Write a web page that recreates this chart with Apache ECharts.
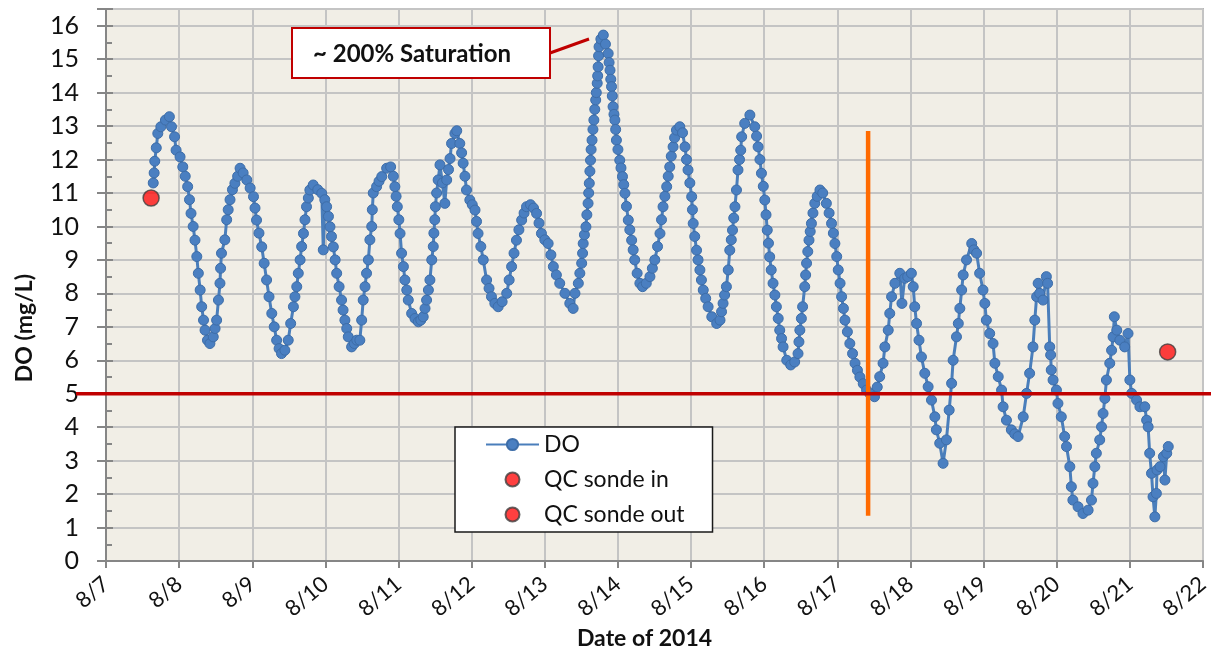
<!DOCTYPE html>
<html>
<head>
<meta charset="utf-8">
<script src="https://cdn.jsdelivr.net/npm/echarts@6/dist/echarts.min.js"></script>
<style>
html,body{margin:0;padding:0;background:#fff;}
#chart{width:1212px;height:654px;}
</style>
</head>
<body>
<div id="chart"></div>
<script>
// ---- DATA (hours since 8/7/2014 00:00) ----
const dateLabels = ['8/7','8/8','8/9','8/10','8/11','8/12','8/13','8/14','8/15','8/16','8/17','8/18','8/19','8/20','8/21','8/22'];
const doHours = [15.5,15.8,16.0,16.5,17.0,18.0,19.5,20.8,21.5,22.5,23.0,24.3,25.2,26.0,26.8,27.4,27.9,28.6,29.2,29.8,30.3,30.9,31.4,32.0,32.5,33.3,34.1,35.2,35.8,36.3,36.9,37.4,37.6,37.9,39.0,39.6,40.1,40.7,41.5,42.3,43.2,44.0,45.0,46.2,47.3,48.4,48.9,49.4,50.2,51.1,51.9,52.7,53.5,54.4,55.2,56.0,56.8,57.6,58.7,59.8,60.6,61.5,62.0,62.6,63.1,63.7,64.2,64.8,65.3,65.8,66.4,66.9,68.0,69.5,70.8,71.3,71.8,72.4,73.0,73.5,74.0,74.6,75.2,75.7,76.5,77.3,77.8,78.4,79.0,79.5,80.6,81.5,82.3,83.3,83.9,84.4,85.0,85.5,86.1,86.6,87.2,87.4,87.7,88.8,89.6,90.5,92.1,93.4,94.3,94.8,95.2,95.6,96.1,96.5,97.0,97.6,98.1,98.7,99.2,100.3,101.4,102.5,103.3,104.1,104.7,105.2,105.8,106.3,106.9,107.4,107.6,107.9,108.1,108.5,109.0,109.6,110.4,111.2,111.8,112.4,112.9,113.4,114.5,115.1,116.1,116.7,117.2,117.8,118.3,119.4,120.2,121.1,121.6,122.1,123.0,123.8,124.9,125.7,126.5,127.6,128.7,130.0,131.5,132.3,133.1,133.9,134.7,135.5,136.4,137.2,138.0,139.3,140.3,141.3,142.1,142.9,144.0,145.1,146.0,146.8,147.8,148.9,150.6,152.2,153.3,153.9,155.0,155.5,156.1,156.4,156.6,157.0,157.5,157.8,158.2,158.4,158.6,158.8,159.0,159.2,159.5,159.8,160.1,160.4,160.7,160.9,161.2,161.35,161.5,161.65,161.8,162.4,163.2,163.9,164.8,165.1,165.4,165.65,165.9,166.15,166.4,166.7,167.0,167.25,167.5,168.0,168.6,169.0,169.5,169.9,170.3,170.8,171.4,171.9,172.5,173.0,173.5,174.3,175.2,176.1,177.3,178.5,179.3,180.1,181.0,181.8,182.3,182.8,183.4,184.0,184.5,185.0,185.5,186.1,186.6,187.2,188.3,189.2,190.0,190.5,191.0,191.6,192.2,192.45,192.7,193.2,193.8,194.3,194.9,195.4,196.0,196.8,197.6,198.8,200.4,201.5,202.0,202.5,203.0,203.6,204.2,204.7,205.2,205.6,206.0,206.4,206.9,207.4,207.9,208.3,208.6,209.6,211.3,212.9,213.5,214.0,214.6,215.1,215.7,216.2,216.6,217.0,217.4,217.8,218.3,218.9,219.5,220.0,220.6,221.1,221.7,222.2,223.4,224.7,226.0,227.1,227.4,227.7,228.2,228.6,229.3,229.6,229.9,230.3,230.7,231.1,231.5,232.0,232.6,233.4,234.3,235.2,236.4,237.3,238.1,238.7,239.2,239.8,240.3,240.9,241.4,242.0,242.5,243.3,244.1,245.0,245.8,246.6,247.4,248.5,249.6,250.7,252.2,253.1,253.9,255.0,255.6,256.7,257.2,257.8,258.9,260.5,261.2,262.1,263.1,264.3,264.9,265.4,266.0,266.8,267.6,268.7,269.8,270.9,272.0,272.5,273.6,274.7,275.8,276.7,277.5,278.0,279.1,279.7,280.2,280.8,281.3,282.4,284.1,284.8,285.7,286.7,287.8,288.4,288.9,290.0,291.1,291.7,292.8,293.9,294.4,295.5,297.1,298.2,299.3,301.0,302.1,303.1,304.2,304.8,305.4,305.9,306.4,307.5,308.6,309.0,309.7,310.0,310.2,310.8,311.9,312.4,313.5,314.6,315.2,316.3,316.8,317.3,319.0,320.6,322.3,323.4,323.9,324.5,325.0,326.1,326.7,327.2,327.8,328.3,329.4,330.0,330.5,330.9,331.7,332.7,334.3,335.4,336.0,336.6,338.2,339.3,340.9,341.5,342.0,342.5,343.1,343.6,344.2,344.7,344.9,345.9,347.0,347.5,348.1,348.6];
const doValues = [11.3,11.6,11.95,12.35,12.78,12.98,13.18,13.28,12.98,12.68,12.28,12.08,11.78,11.5,11.19,10.8,10.39,10.0,9.59,9.1,8.6,8.1,7.6,7.2,6.9,6.6,6.5,6.7,6.95,7.2,7.8,8.3,8.75,9.2,9.6,10.2,10.5,10.8,11.1,11.29,11.5,11.74,11.6,11.39,11.15,10.89,10.55,10.19,9.8,9.39,8.9,8.4,7.9,7.4,7.0,6.6,6.35,6.2,6.3,6.6,7.1,7.6,7.9,8.2,8.6,9.0,9.4,9.79,10.2,10.59,10.85,11.09,11.24,11.1,10.99,9.3,10.8,10.59,10.3,9.99,9.7,9.39,9.0,8.6,8.2,7.8,7.5,7.2,6.95,6.7,6.4,6.5,6.6,6.6,7.2,7.8,8.2,8.6,9.0,9.6,10.0,10.5,11.0,11.19,11.35,11.49,11.74,11.78,11.5,11.19,10.9,10.59,10.2,9.79,9.2,8.8,8.4,8.1,7.8,7.4,7.25,7.15,7.2,7.3,7.55,7.8,8.1,8.4,9.0,9.4,9.8,10.2,10.59,11.0,11.39,11.84,11.3,10.69,11.39,11.7,12.03,12.48,12.78,12.86,12.48,12.2,11.89,11.5,11.09,10.79,10.65,10.49,10.15,9.79,9.4,9.0,8.4,8.15,7.9,7.7,7.6,7.75,8.0,8.4,8.8,9.2,9.59,9.9,10.19,10.4,10.59,10.65,10.55,10.39,10.1,9.79,9.6,9.49,9.15,8.8,8.55,8.3,8.0,7.7,7.55,8.0,8.3,8.6,8.9,9.2,9.49,9.75,9.99,10.35,10.69,11.0,11.29,11.65,11.98,12.3,12.58,12.9,13.18,13.5,13.78,14.0,14.28,14.5,14.77,15.1,15.37,15.6,15.72,15.45,15.17,14.9,14.67,14.4,14.18,13.9,13.58,13.35,13.18,12.9,12.58,12.3,11.98,11.75,11.49,11.25,10.99,10.6,10.19,9.9,9.59,9.3,9.0,8.6,8.3,8.2,8.3,8.5,8.75,9.0,9.4,9.79,10.2,10.59,10.9,11.19,11.5,11.78,12.1,12.38,12.65,12.88,12.98,12.8,12.38,12.0,11.69,11.3,10.89,10.5,10.09,9.7,9.29,9.0,8.7,8.4,8.1,7.85,7.6,7.3,7.1,7.2,7.45,7.7,7.95,8.2,8.7,9.29,9.6,9.89,10.25,10.59,11.09,11.69,12.0,12.28,12.68,13.08,13.33,12.98,12.7,12.38,12.0,11.59,11.2,10.79,10.35,9.89,9.5,9.09,8.7,8.3,7.95,7.6,7.25,6.9,6.65,6.4,6.0,5.86,5.95,6.2,6.55,6.9,7.25,7.6,8.2,8.55,8.9,9.25,9.59,9.85,10.09,10.4,10.69,10.9,11.09,11.0,10.69,10.4,10.09,9.8,9.49,9.1,8.7,8.3,7.9,7.55,7.2,6.85,6.5,6.2,5.91,5.7,5.5,5.3,5.11,5.0,4.91,5.2,5.51,5.91,6.4,6.9,7.4,7.9,8.3,8.6,7.7,8.45,8.5,8.6,8.2,7.6,7.1,6.6,6.1,5.61,5.21,4.81,4.31,3.92,3.52,2.92,3.62,4.51,5.31,6.0,6.7,7.1,7.55,8.1,8.55,9.0,9.49,9.3,9.2,8.6,8.1,7.7,7.2,6.8,6.5,5.91,5.51,5.11,4.61,4.21,3.92,3.8,3.72,4.31,5.01,5.61,6.4,7.2,7.9,8.3,8.0,7.8,8.5,8.3,6.4,6.16,5.71,5.41,5.11,4.71,4.31,3.72,3.42,2.82,2.22,1.82,1.62,1.42,1.52,1.82,2.32,2.82,3.22,3.62,4.01,4.41,4.86,5.41,5.91,6.3,6.7,7.3,6.9,6.6,6.4,6.8,5.41,5.01,4.81,4.61,4.61,4.21,4.01,3.22,2.62,1.92,1.32,2.02,2.72,2.82,3.12,2.42,3.22,3.42];
const qcInHours = [14.8];
const qcInValues = [10.85];
const qcOutHours = [348.4];
const qcOutValues = [6.25];
const sondeHours = [250.1, 250.1];   // orange vertical marker
const sondeValues = [1.35, 12.85];
const doStandard = 5;                // red DO standard line
const xMin = 0, xMax = 360, xStep = 24;
const yMin = 0, yMax = 16.5, yStep = 1;

const FONT = 'Lato, "Open Sans", sans-serif';
const chart = echarts.init(document.getElementById('chart'), null, {renderer: 'canvas'});

const zip = (a, b) => a.map((v, i) => [v, b[i]]);

const option = {
  animation: false,
  backgroundColor: '#ffffff',
  textStyle: {fontFamily: FONT},
  grid: {
    left: 106, right: 9, top: 9, bottom: 93,
    containLabel: false, outerBoundsMode: 'none',
    show: true, backgroundColor: '#F1EEE6', borderColor: '#7F7F7F', borderWidth: 1.5
  },
  legend: {
    left: 455, top: 427,
    orient: 'vertical',
    backgroundColor: '#ffffff', borderColor: '#1a1a1a', borderWidth: 1.5,
    padding: [6, 28, 6, 30],
    itemWidth: 53, itemHeight: 14, itemGap: 12,
    textStyle: {fontFamily: FONT, fontSize: 23, color: '#111', lineHeight: 22},
    data: ['DO', 'QC sonde in', 'QC sonde out']
  },
  xAxis: {
    type: 'value', min: xMin, max: xMax, interval: xStep,
    name: 'Date of 2014', nameLocation: 'middle', nameGap: 66,
    nameTextStyle: {fontFamily: FONT, fontSize: 23, fontWeight: 'bold', color: '#111', padding: [0, 20, 0, 0]},
    axisLine: {show: true, lineStyle: {color: '#868686', width: 2}},
    axisTick: {show: true, inside: false, length: 7, lineStyle: {color: '#868686', width: 2}},
    axisLabel: {
      rotate: 40, margin: 20, fontFamily: FONT, fontSize: 22, color: '#111',
      formatter: v => dateLabels[Math.round(v / xStep)] || ''
    },
    splitLine: {show: true, lineStyle: {color: '#C4C4C4', width: 2}}
  },
  yAxis: [{
    type: 'value', min: yMin, max: yMax, interval: yStep, position: 'left',
    name: 'DO (mg/L)', nameLocation: 'middle', nameGap: 70, nameRotate: 90,
    nameTextStyle: {fontFamily: FONT, fontSize: 23, fontWeight: 'bold', color: '#111', padding: [0, 86, 0, 0]},
    axisLine: {show: true, lineStyle: {color: '#868686', width: 2}},
    axisTick: {show: true, inside: true, length: 7, lineStyle: {color: '#868686', width: 2}},
    minorTick: {show: true, splitNumber: 2, length: 6, lineStyle: {color: '#868686', width: 2}},
    axisLabel: {
      margin: 27, fontFamily: FONT, fontSize: 25, color: '#111',
      formatter: v => Number.isInteger(v) ? String(v) : ''
    },
    splitLine: {show: true, lineStyle: {color: '#C4C4C4', width: 2}}
  }, {
    type: 'value', min: yMin, max: yMax, interval: yStep, position: 'left', offset: 0,
    axisLine: {show: false},
    axisTick: {show: true, inside: false, length: 9, lineStyle: {color: '#868686', width: 2}},
    axisLabel: {show: false},
    splitLine: {show: false}
  }],
  series: [
    {
      name: 'DO', type: 'line', xAxisIndex: 0, yAxisIndex: 0,
      data: zip(doHours, doValues),
      symbol: 'circle', symbolSize: 10, showSymbol: true,
      lineStyle: {color: '#4A7EBB', width: 3},
      itemStyle: {color: '#4A7FC1', borderColor: '#3D6DA8', borderWidth: 1},
      z: 3
    },
    {
      name: 'QC sonde in', type: 'scatter',
      data: zip(qcInHours, qcInValues),
      symbol: 'circle', symbolSize: 16,
      itemStyle: {color: '#FF1010', borderColor: '#404040', borderWidth: 1.5},
      z: 6
    },
    {
      name: 'QC sonde out', type: 'scatter',
      data: zip(qcOutHours, qcOutValues),
      symbol: 'circle', symbolSize: 16,
      itemStyle: {color: '#FF1010', borderColor: '#404040', borderWidth: 1.5},
      z: 6
    },
    {
      name: 'sonde', type: 'line',
      data: zip(sondeHours, sondeValues),
      symbol: 'none', lineStyle: {color: '#FF6A00', width: 4.5},
      z: 5, silent: true
    },
    {
      name: 'standard', type: 'custom', clip: false, silent: true, z: 7,
      data: [[xMin, doStandard]],
      renderItem: (params, api) => {
        const a = api.coord([xMin, api.value(1)]);
        const b = api.coord([xMax, api.value(1)]);
        return {
          type: 'line',
          shape: {x1: a[0] - 30, y1: a[1], x2: b[0] + 8, y2: b[1]},
          style: {stroke: '#C00000', lineWidth: 3.5}
        };
      }
    }
  ],
  graphic: [
    {type: 'line', shape: {x1: 550, y1: 53, x2: 589, y2: 39}, style: {stroke: '#C00000', lineWidth: 3}, z: 10},
    {type: 'rect', shape: {x: 292, y: 28, width: 258, height: 50}, style: {fill: '#ffffff', stroke: '#C00000', lineWidth: 2}, z: 10},
    {type: 'text', x: 313, y: 54, style: {text: '~ 200% Saturation', font: 'bold 24px ' + FONT, fill: '#111', textVerticalAlign: 'middle', verticalAlign: 'middle'}, z: 11}
  ]
};
chart.setOption(option);
</script>
</body>
</html>
